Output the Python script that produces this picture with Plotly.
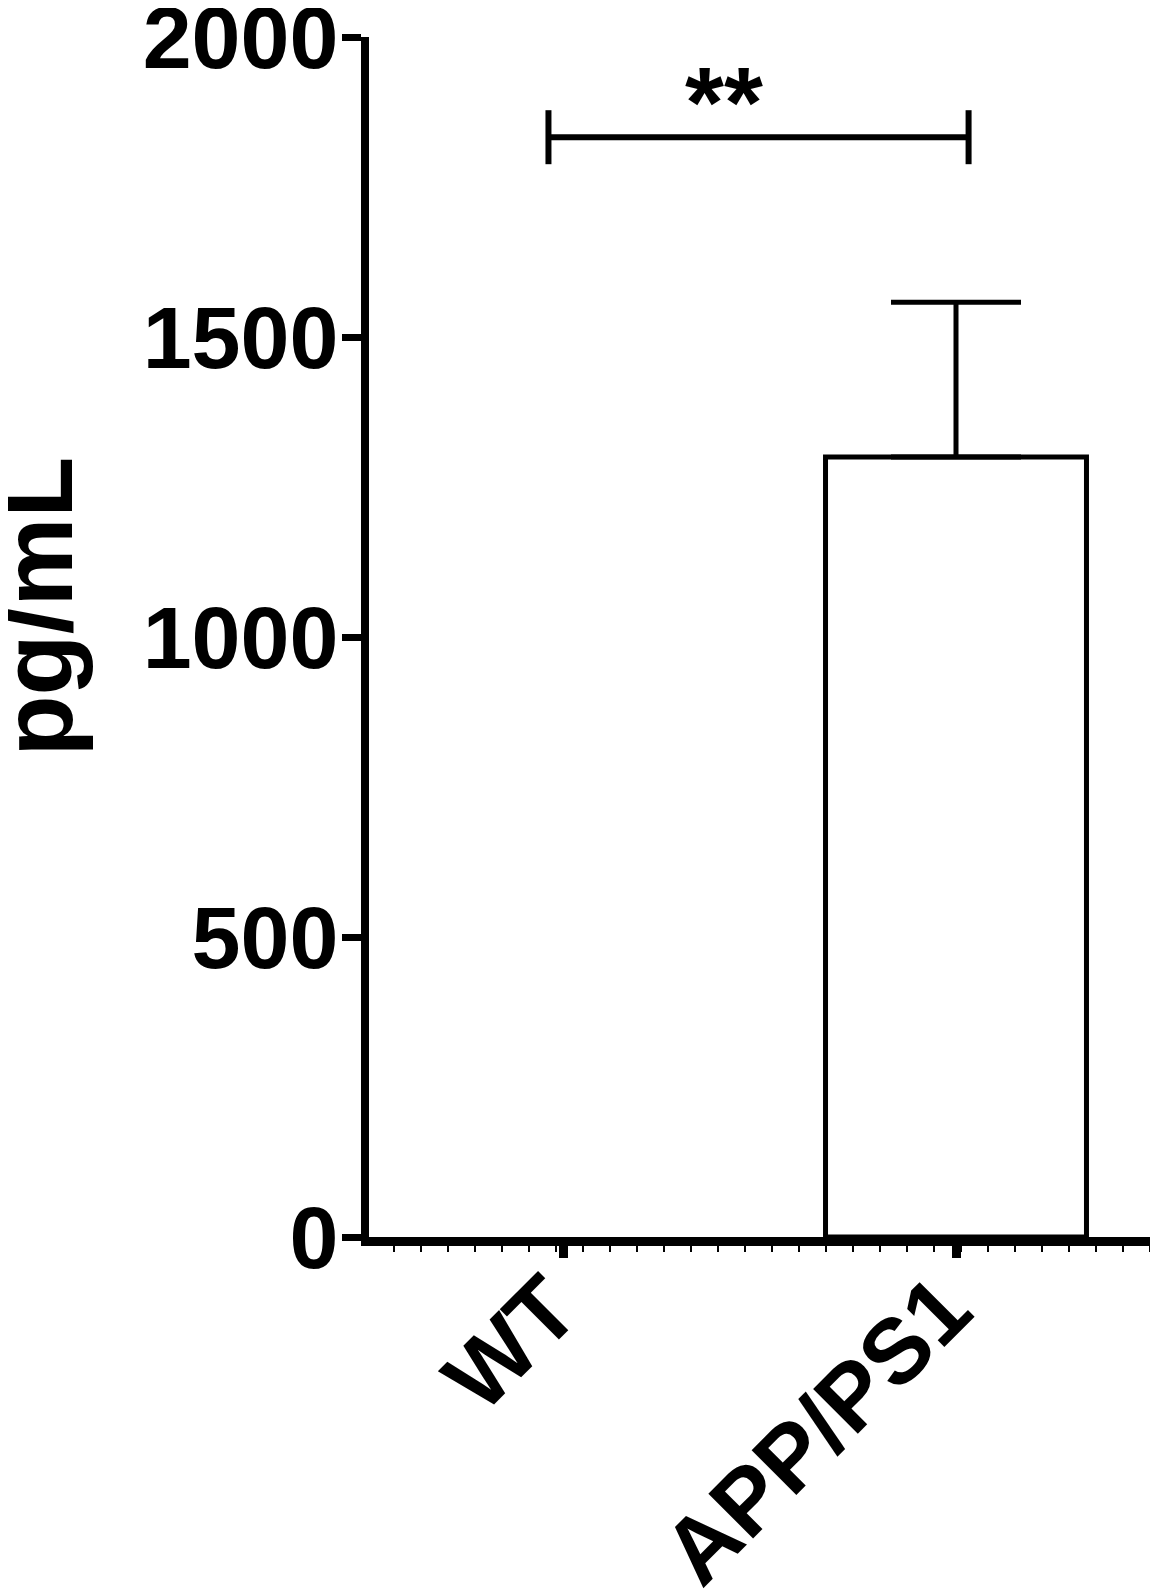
import plotly.graph_objects as go

# ---- data ----
categories = ["WT", "APP/PS1"]
means = [0, 1300]
sem = [0, 258]
y_ticks = [0, 500, 1000, 1500, 2000]
sig_label = "**"
sig_y = 1833
sig_cap = 45

x_pos = list(range(len(categories)))
FONT = "Liberation Sans, Arial, Helvetica, sans-serif"

# page body has an 8px margin, so the figure is slightly smaller than the window
W, H = 1150, 1584
ML, MT, MB, MR = 361, 29, 355, 0
unit = 393.0
x0_px = 555.0                      # x=0 (first category) in figure pixels
xr = [(ML - x0_px) / unit, (W - MR - x0_px) / unit]
plot_h = H - MT - MB

fig = go.Figure()
fig.add_trace(go.Bar(
    x=x_pos, y=means, width=0.664,
    marker=dict(color="white",
                line=dict(color="black", width=[5 if m > 0 else 0 for m in means])),
    showlegend=False, hoverinfo="skip",
))

# upward-only error bars (only where an error exists)
err_idx = [i for i, e in enumerate(sem) if e > 0]
fig.add_trace(go.Scatter(
    x=[x_pos[i] for i in err_idx], y=[means[i] for i in err_idx],
    mode="markers", marker=dict(size=1, opacity=0),
    error_y=dict(type="data", array=[sem[i] for i in err_idx],
                 arrayminus=[0] * len(err_idx), symmetric=False,
                 color="black", thickness=5, width=65),
    showlegend=False, hoverinfo="skip", cliponaxis=False,
))

# significance bracket
bx0 = x_pos[0] - 0.037
bx1 = x_pos[1] + 0.032
fig.add_trace(go.Scatter(
    x=[bx0, bx0, None, bx0, bx1, None, bx1, bx1],
    y=[sig_y - sig_cap, sig_y + sig_cap, None, sig_y, sig_y, None, sig_y - sig_cap, sig_y + sig_cap],
    mode="lines", line=dict(color="black", width=6), showlegend=False, cliponaxis=False,
    hoverinfo="skip",
))

fig.add_annotation(x=0.409, y=sig_y - 38, text=sig_label, showarrow=False,
                   xanchor="center", yanchor="bottom",
                   font=dict(family=FONT, size=100, color="black", weight="bold"))

fig.add_annotation(xref="paper", yref="paper", x=-ML / (W - ML - MR),
                   y=(H - MB - 598.5) / plot_h, xshift=-30,
                   text="pg/mL", textangle=-90, showarrow=False,
                   xanchor="left", yanchor="middle",
                   font=dict(family=FONT, size=100, color="black", weight="bold"))

fig.update_layout(
    width=W, height=H,
    margin=dict(l=ML, r=MR, t=MT, b=MB, pad=0, autoexpand=False),
    plot_bgcolor="white", paper_bgcolor="white",
    xaxis=dict(
        range=xr, tickmode="array", tickvals=x_pos, ticktext=categories, automargin=False,
        tickangle=-45, ticks="outside", ticklen=12, tickwidth=9, tickcolor="black",
        ticklabelshift=-12, ticklabelstandoff=-40,
        showline=True, linewidth=9, linecolor="black", showgrid=False, zeroline=False,
        tickfont=dict(family=FONT, size=92, color="black", weight="bold"),
        minor=dict(tickmode="linear", tick0=(367 - 563) / unit, dtick=27 / unit,
                   ticks="outside", ticklen=6, tickwidth=2, tickcolor="black", showgrid=False),
    ),
    yaxis=dict(
        range=[0, 2000], tickmode="array", tickvals=y_ticks, automargin=False,
        ticks="outside", ticklen=19, tickwidth=7, tickcolor="black",
        ticklabelstandoff=-14, ticklabeloverflow="allow",
        showline=True, linewidth=8, linecolor="black", showgrid=False, zeroline=False,
        tickfont=dict(family=FONT, size=88, color="black", weight="bold"),
    ),
)

fig.write_html("out.html")
